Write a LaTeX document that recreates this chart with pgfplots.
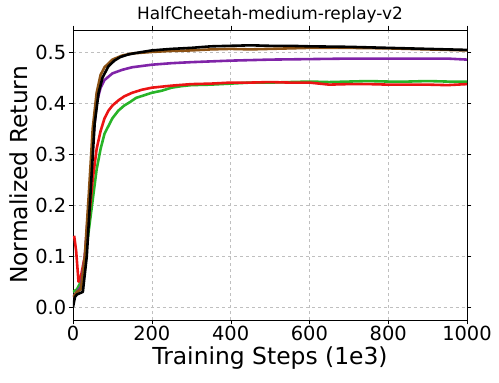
\documentclass[border=0pt]{standalone}
\usepackage{fontspec}
\setmainfont{DejaVu Sans}
\usepackage{pgfplots}
\pgfplotsset{compat=1.18}

\definecolor{cred}{RGB}{235,20,20}
\definecolor{cgreen}{RGB}{40,180,40}
\definecolor{cpurple}{RGB}{128,36,168}
\definecolor{cbrown}{RGB}{140,82,20}

\begin{document}
\begin{tikzpicture}
  \path[use as bounding box] (-73bp,-63bp) rectangle (426bp,320bp);
  \begin{axis}[
      at={(0,0)}, anchor=south west,
      scale only axis,
      width=394bp, height=290bp,
      xmin=0, xmax=1000,
      ymin=-0.025, ymax=0.543,
      xtick={0,200,400,600,800,1000},
      ytick={0,0.1,0.2,0.3,0.4,0.5},
      xticklabel style={/pgf/number format/set thousands separator={}},
      yticklabel style={/pgf/number format/fixed, /pgf/number format/precision=1, /pgf/number format/fixed zerofill},
      /pgf/number format/assume math mode=true,
      tick label style={font=\fontsize{19.5}{21}\selectfont},
      xticklabel style={yshift=2bp},
      yticklabel style={xshift=1bp},
      label style={font=\fontsize{23.5}{25}\selectfont},
      xlabel style={yshift=1bp},
      ylabel style={yshift=1bp},
      title style={font=\fontsize{17}{19}\selectfont, yshift=-3bp},
      title={HalfCheetah-medium-replay-v2},
      xlabel={Training Steps (1e3)},
      ylabel={Normalized Return},
      grid=major,
      major grid style={gray!50, dashed, line width=0.5pt},
      tick align=outside,
      tick style={black},
      axis line style={black, line width=0.8pt},
      every axis plot/.append style={line width=2.6pt, line join=round},
    ]
    % green
    \addplot[cgreen] coordinates {(0,0.03) (10,0.035) (20,0.05) (30,0.09) (40,0.15) (50,0.21) (60,0.27) (70,0.31) (80,0.34) (90,0.355) (100,0.37) (115,0.385) (130,0.395) (145,0.402) (160,0.41) (180,0.415) (200,0.42) (225,0.424) (250,0.43) (275,0.433) (300,0.435) (350,0.436) (400,0.438) (450,0.44) (500,0.44) (550,0.441) (600,0.442) (650,0.441) (700,0.442) (750,0.443) (800,0.442) (850,0.442) (900,0.443) (950,0.442) (1000,0.442)};
    % red
    \addplot[cred] coordinates {(3,0.14) (8,0.11) (14,0.05) (20,0.06) (30,0.1) (40,0.17) (50,0.25) (60,0.31) (70,0.345) (80,0.37) (90,0.385) (100,0.395) (115,0.405) (130,0.413) (150,0.42) (175,0.426) (200,0.43) (250,0.434) (300,0.437) (350,0.438) (400,0.44) (450,0.44) (500,0.441) (550,0.44) (600,0.44) (650,0.436) (700,0.437) (750,0.437) (800,0.436) (850,0.436) (900,0.436) (950,0.435) (1000,0.437)};
    % purple
    \addplot[cpurple] coordinates {(0,0.02) (10,0.03) (20,0.04) (30,0.1) (40,0.2) (50,0.32) (60,0.4) (70,0.43) (80,0.445) (100,0.458) (125,0.465) (150,0.47) (200,0.475) (250,0.478) (300,0.48) (400,0.483) (500,0.485) (600,0.486) (700,0.487) (800,0.487) (900,0.487) (950,0.487) (1000,0.485)};
    % brown
    \addplot[cbrown] coordinates {(0,0.02) (10,0.03) (20,0.035) (30,0.1) (40,0.22) (50,0.35) (60,0.42) (70,0.455) (80,0.47) (100,0.485) (125,0.493) (150,0.497) (200,0.5) (250,0.502) (300,0.503) (350,0.505) (400,0.506) (450,0.505) (500,0.506) (550,0.507) (600,0.508) (700,0.508) (800,0.507) (900,0.505) (1000,0.503)};
    % black
    \addplot[black] coordinates {(0,0.0) (5,0.02) (10,0.025) (25,0.03) (35,0.1) (45,0.23) (55,0.36) (65,0.42) (75,0.45) (90,0.472) (105,0.483) (120,0.49) (140,0.495) (160,0.498) (200,0.503) (250,0.506) (300,0.508) (350,0.511) (400,0.512) (450,0.513) (500,0.512) (550,0.512) (600,0.511) (700,0.51) (800,0.508) (900,0.506) (1000,0.504)};
  \end{axis}
\end{tikzpicture}
\end{document}
